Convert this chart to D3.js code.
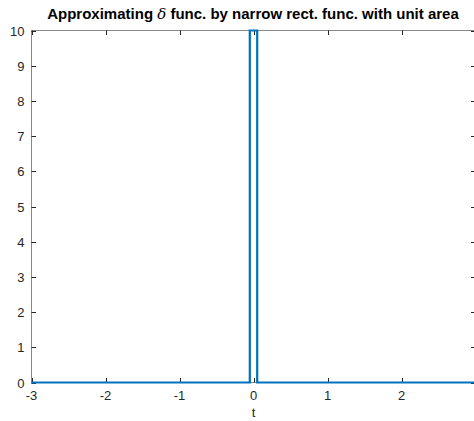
<!DOCTYPE html>
<html><head><meta charset="utf-8">
<script src="https://cdn.jsdelivr.net/npm/d3@7"></script>
<style>
html,body{margin:0;padding:0;background:#fff;overflow:hidden}
text{font-family:"Liberation Sans",Arial,Helvetica,sans-serif}
</style></head>
<body><svg id="c" width="474" height="421"></svg>
<script>
const tValues = [-3, -0.05, -0.05, 0.05, 0.05, 3];
const yValues = [0, 0, 10, 10, 0, 0];
const xTicks = [-3, -2, -1, 0, 1, 2, 3];
const yTicks = [0, 1, 2, 3, 4, 5, 6, 7, 8, 9, 10];
const xDomain = [-3, 3];
const yDomain = [0, 10];

const svg = d3.select("#c");
const L = 31.5, R = 475.5, T = 30.5, B = 382.5;
const x = d3.scaleLinear().domain(xDomain).range([L, R]);
const y = d3.scaleLinear().domain(yDomain).range([B, T]);
const tl = 4.5;

svg.append("rect").attr("x", L).attr("y", T).attr("width", R - L).attr("height", B - T)
  .attr("fill", "none").attr("stroke", "#262626").attr("stroke-width", 1).attr("stroke-opacity", 0.55);

const g = svg.append("g");
xTicks.forEach(v => {
  const px = Math.round(x(v)) + 0.5;
  g.append("line").attr("x1", px).attr("x2", px).attr("y1", B).attr("y2", B - tl).attr("stroke", "#262626");
  g.append("line").attr("x1", px).attr("x2", px).attr("y1", T).attr("y2", T + tl).attr("stroke", "#262626");
  if (v < 3) g.append("text").attr("x", x(v)).attr("y", B + 17).attr("text-anchor", "middle")
    .attr("font-size", 13).attr("fill", "#262626").text(v);
});
yTicks.forEach(v => {
  const py = Math.round(y(v)) + 0.5;
  g.append("line").attr("x1", L).attr("x2", L + tl).attr("y1", py).attr("y2", py).attr("stroke", "#262626");
  g.append("line").attr("x1", R).attr("x2", R - tl).attr("y1", py).attr("y2", py).attr("stroke", "#262626");
  g.append("text").attr("x", L - 7).attr("y", y(v) + 5).attr("text-anchor", "end")
    .attr("font-size", 13).attr("fill", "#262626").text(v);
});

const line = d3.line().x((d, i) => x(tValues[i])).y(d => y(d));
svg.append("path").datum(yValues).attr("d", line).attr("fill", "none")
  .attr("stroke", "#0072BD").attr("stroke-width", 2.2).attr("stroke-linejoin", "miter");

svg.append("text").attr("x", (L + R) / 2).attr("y", 417).attr("text-anchor", "middle")
  .attr("font-size", 13).attr("fill", "#262626").text("t");
const title = svg.append("text").attr("x", (L + R) / 2 - 0.5).attr("y", 19).attr("text-anchor", "middle")
  .attr("font-size", 15).attr("font-weight", "bold").attr("fill", "#000");
title.append("tspan").text("Approximating ");
title.append("tspan").attr("font-family", "'DejaVu Serif',serif").attr("font-style", "italic").attr("font-weight", "normal").text("δ");
title.append("tspan").text(" func. by narrow rect. func. with unit area");
</script></body></html>
